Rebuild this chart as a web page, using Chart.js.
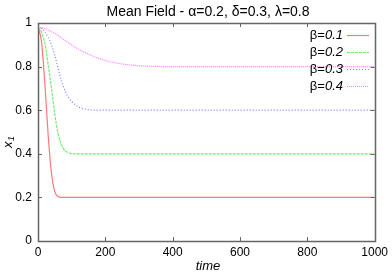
<!DOCTYPE html>
<html lang="en">
<head>
    <meta charset="UTF-8">
    <title>Mean Field</title>
    <script src="https://cdn.jsdelivr.net/npm/chart.js"></script>
    <style>
        body { margin: 0; background: #fff; }
        canvas { display: block; }
    </style>
</head>
<body>
    <canvas id="mfChart" width="392" height="274"></canvas>

    <script>
        // === data ===
        const times = [0, 10, 20, 30, 40, 50, 60, 70, 80, 90, 100, 120, 140, 160, 180, 200, 250, 300, 350, 400, 1000];
        const beta01 = [0.98, 0.92, 0.73, 0.49, 0.31, 0.225, 0.204, 0.2, 0.2, 0.2, 0.2, 0.2, 0.2, 0.2, 0.2, 0.2, 0.2, 0.2, 0.2, 0.2, 0.2];
        const beta02 = [0.98, 0.96, 0.91, 0.81, 0.70, 0.58, 0.49, 0.44, 0.415, 0.405, 0.401, 0.4, 0.4, 0.4, 0.4, 0.4, 0.4, 0.4, 0.4, 0.4, 0.4];
        const beta03 = [0.98, 0.975, 0.96, 0.935, 0.90, 0.85, 0.79, 0.735, 0.69, 0.66, 0.64, 0.615, 0.605, 0.601, 0.6, 0.6, 0.6, 0.6, 0.6, 0.6, 0.6];
        const beta04 = [0.98, 0.978, 0.974, 0.968, 0.96, 0.952, 0.943, 0.932, 0.921, 0.91, 0.9, 0.88, 0.864, 0.85, 0.838, 0.828, 0.812, 0.804, 0.801, 0.8, 0.8];
        const seriesNames = ['0.1', '0.2', '0.3', '0.4'];
        const seriesColors = ['rgb(255,120,120)', 'rgb(110,240,110)', 'rgb(125,125,255)', 'rgb(255,125,255)'];
        const seriesDash = [[], [3, 1], [1, 2], [1, 1]];
        const xTicks = [0, 200, 400, 600, 800, 1000];
        const yTicks = [0, 0.2, 0.4, 0.6, 0.8, 1];

        const FONT = '"Liberation Sans", Arial, sans-serif';
        const frameColor = '#666';

        const datasets = [beta01, beta02, beta03, beta04].map((vals, i) => ({
            label: seriesNames[i],
            data: vals.map((v, k) => ({ x: times[k], y: v })),
            borderColor: seriesColors[i],
            borderWidth: 1.2,
            borderDash: seriesDash[i],
            pointRadius: 0,
            fill: false,
            cubicInterpolationMode: 'monotone'
        }));

        // frame, inward ticks, title, axis labels, legend (gnuplot look)
        const gnuplotDecor = {
            id: 'gnuplotDecor',
            afterDraw(chart) {
                const ctx = chart.ctx;
                const a = chart.chartArea;
                const xs = chart.scales.x, ys = chart.scales.y;
                ctx.save();

                ctx.strokeStyle = frameColor;
                ctx.lineWidth = 1.5;
                ctx.strokeRect(Math.round(a.left) + 0.5, Math.round(a.top) + 0.5,
                    Math.round(a.right - a.left), Math.round(a.bottom - a.top));

                ctx.lineWidth = 1;
                ctx.beginPath();
                xTicks.forEach(t => {
                    const px = Math.round(xs.getPixelForValue(t)) + 0.5;
                    ctx.moveTo(px, a.bottom); ctx.lineTo(px, a.bottom - 4);
                    ctx.moveTo(px, a.top); ctx.lineTo(px, a.top + 4);
                });
                yTicks.forEach(t => {
                    const py = Math.round(ys.getPixelForValue(t)) + 0.5;
                    ctx.moveTo(a.left, py); ctx.lineTo(a.left + 4, py);
                    ctx.moveTo(a.right, py); ctx.lineTo(a.right - 4, py);
                });
                ctx.stroke();

                ctx.fillStyle = '#000';
                ctx.textBaseline = 'middle';

                // title
                ctx.font = '14px ' + FONT;
                ctx.textAlign = 'center';
                ctx.fillText('Mean Field - α=0.2, δ=0.3, λ=0.8', 208, 12);

                // x label
                ctx.font = 'italic 13px ' + FONT;
                ctx.fillText('time', 208, 266);

                // y label: x with subscript 1
                ctx.save();
                ctx.translate(8, 142);
                ctx.rotate(-Math.PI / 2);
                ctx.textAlign = 'left';
                ctx.font = 'italic 13px ' + FONT;
                ctx.fillText('x', -6, 0);
                ctx.font = 'italic 9px ' + FONT;
                ctx.fillText('1', 1, 3);
                ctx.restore();

                // legend
                datasets.forEach((ds, i) => {
                    const y = 35 + i * 17;
                    const right = 343;
                    ctx.textAlign = 'right';
                    ctx.font = 'italic 13px ' + FONT;
                    const numW = ctx.measureText(ds.label).width;
                    ctx.fillText(ds.label, right, y);
                    ctx.font = '13px ' + FONT;
                    ctx.fillText('β=', right - numW, y);

                    ctx.strokeStyle = seriesColors[i];
                    ctx.lineWidth = 1.2;
                    ctx.setLineDash(seriesDash[i]);
                    ctx.beginPath();
                    ctx.moveTo(347, y + 0.5);
                    ctx.lineTo(369, y + 0.5);
                    ctx.stroke();
                    ctx.setLineDash([]);
                });

                ctx.restore();
            }
        };

        new Chart(document.getElementById('mfChart').getContext('2d'), {
            type: 'line',
            data: { datasets: datasets },
            options: {
                responsive: false,
                animation: false,
                layout: { padding: { top: 23, right: 14, left: 0, bottom: 0 } },
                plugins: {
                    legend: { display: false },
                    tooltip: { enabled: false },
                    title: { display: false }
                },
                scales: {
                    x: {
                        type: 'linear',
                        min: 0,
                        max: 1000,
                        grid: { display: false, drawTicks: false },
                        border: { display: false },
                        afterFit: s => { s.height = 33; },
                        afterBuildTicks: s => { s.ticks = xTicks.map(v => ({ value: v })); },
                        ticks: {
                            padding: 4,
                            color: '#000',
                            font: { family: FONT, size: 12 },
                            maxRotation: 0,
                            autoSkip: false,
                            callback: v => String(v)
                        }
                    },
                    y: {
                        type: 'linear',
                        min: 0,
                        max: 1,
                        grid: { display: false, drawTicks: false },
                        border: { display: false },
                        afterFit: s => { s.width = 38; },
                        afterBuildTicks: s => { s.ticks = yTicks.map(v => ({ value: v })); },
                        ticks: {
                            padding: 6,
                            color: '#000',
                            font: { family: FONT, size: 12 },
                            callback: v => String(v)
                        }
                    }
                }
            },
            plugins: [gnuplotDecor]
        });
    </script>
</body>
</html>
